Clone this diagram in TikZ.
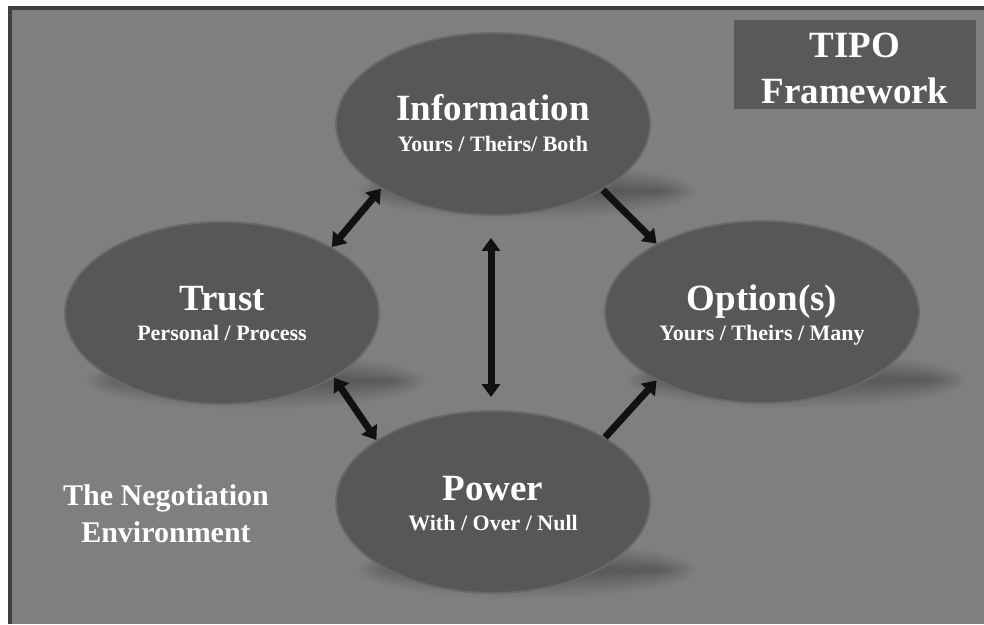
\documentclass[tikz,border=0pt]{standalone}
\usepackage{fontspec}
\setmainfont{Liberation Serif}
\usetikzlibrary{arrows.meta,calc,shapes.geometric}
\definecolor{bggray}{HTML}{7F7F7F}
\definecolor{framegray}{HTML}{404040}
\definecolor{ovalfill}{HTML}{575757}
\definecolor{ovalline}{HTML}{696969}
\definecolor{boxfill}{HTML}{595959}
\definecolor{arrowc}{HTML}{111111}
\tikzset{
  oval/.style={ellipse, fill=ovalfill, draw=ovalline, line width=1.8pt, inner sep=0pt,
    minimum width=314pt, minimum height=182pt},
  titletext/.style={text=white, font=\fontsize{37}{40}\selectfont\bfseries, anchor=base, inner sep=0pt},
  subtext/.style={text=white, font=\fontsize{22}{24}\selectfont\bfseries, anchor=base, inner sep=0pt},
  envtext/.style={text=white, font=\fontsize{30}{32}\selectfont\bfseries, anchor=base, inner sep=0pt},
  conn/.style={line width=7pt, draw=arrowc, -{Triangle[width=18pt,length=13pt]}},
  dconn/.style={line width=7pt, draw=arrowc, {Triangle[width=18pt,length=13pt]}-{Triangle[width=18pt,length=13pt]}},
}
\newcommand{\ovalshadow}[2]{%
  \foreach \i in {0,...,11}{%
    \fill[black, opacity=0.025] (#1,#2) ellipse [x radius={136pt+3pt*\i}, y radius={4pt+2.2pt*\i}];
  }%
}
\begin{document}
\begin{tikzpicture}[x=1pt,y=-1pt]
\useasboundingbox (0,0) rectangle (984,624);
\fill[white] (0,0) rectangle (984,624);
\fill[framegray] (8,6) rectangle (984,624);
\fill[bggray] (12,10) rectangle (984,624);

% shadows
\ovalshadow{527}{191}
\ovalshadow{256}{381}
\ovalshadow{796}{380}
\ovalshadow{527}{570}

% ovals
\node[oval] (info) at (493,124) {};
\node[oval] (trust) at (222,313) {};
\node[oval] (opt) at (762,312) {};
\node[oval] (power) at (493,502) {};

% texts
\node[titletext] (infoT) at (493,120) {Information};
\node[subtext] (infoS) at (493,151) {Yours / Theirs/ Both};
\node[titletext] (trustT) at (222,310) {Trust};
\node[subtext] (trustS) at (222,340) {Personal / Process};
\node[titletext] (optT) at (762,310) {Option(s)};
\node[subtext] (optS) at (762,340) {Yours / Theirs / Many};
\node[titletext] (powerT) at (493,500) {Power};
\node[subtext] (powerS) at (493,530) {With / Over / Null};

% TIPO box
\node[fill=boxfill, minimum width=242pt, minimum height=89pt, inner sep=0pt] (tipo) at (855,64.5) {};
\node[titletext] (tipoA) at (855,57) {TIPO};
\node[titletext] (tipoB) at (855,103) {Framework};

% environment label
\node[envtext] (envA) at (166,505) {The Negotiation};
\node[envtext] (envB) at (166,542) {Environment};

% connectors
\draw[dconn] (info.210) -- (trust.31);
\draw[conn] (info.329) -- (opt.147);
\draw[dconn, shorten <=22pt, shorten >=13pt] ($(info.south)+(-2,0)$) -- ($(power.north)+(-2,0)$);
\draw[dconn] (trust.330) -- (power.152);
\draw[conn] (power.30) -- (opt.213);
\end{tikzpicture}
\end{document}
